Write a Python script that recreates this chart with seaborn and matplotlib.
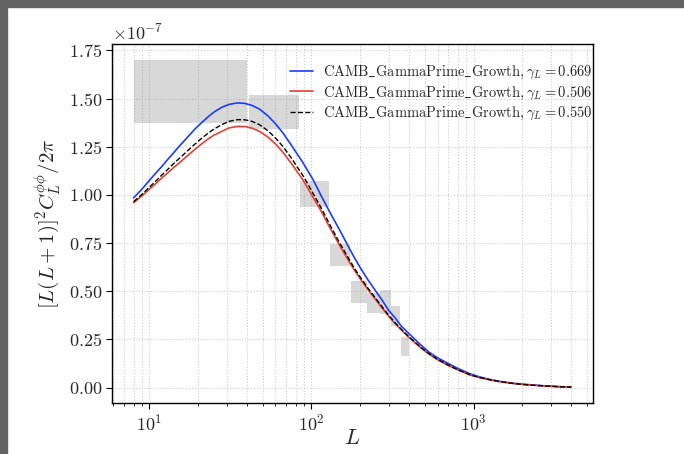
import numpy as np
import pandas as pd
import matplotlib
matplotlib.use("Agg")
import matplotlib.pyplot as plt
from matplotlib.patches import Rectangle
import seaborn as sns

# ---- data (values in units of 1e-7) ----
L = [8, 9, 10, 11, 12, 13, 14, 15, 17, 19, 21, 23, 25, 28, 31, 35,
     39, 43, 48, 54, 60, 67, 75, 88, 95, 102, 115, 130, 150, 172, 184, 202,
     225, 250, 275, 300, 330, 358, 400, 475, 530, 600, 700, 800, 950, 1100, 1300, 1500,
     1750, 2000, 2400, 2800, 3400, 4000]
blue_vals = [0.985, 1.03, 1.075, 1.115, 1.15, 1.185, 1.215, 1.245,
             1.295, 1.34, 1.375, 1.405, 1.43, 1.455, 1.47, 1.478,
             1.475, 1.465, 1.445, 1.41, 1.37, 1.32, 1.26, 1.172,
             1.125, 1.082, 0.995, 0.91, 0.815, 0.72, 0.675, 0.617,
             0.555, 0.50, 0.45, 0.40, 0.36, 0.32, 0.28, 0.22,
             0.185, 0.155, 0.125, 0.10, 0.072, 0.055, 0.040, 0.031,
             0.023, 0.018, 0.013, 0.009, 0.005, 0.003]
red_vals = [0.96, 0.995, 1.03, 1.06, 1.09, 1.115, 1.14, 1.16,
            1.2, 1.235, 1.265, 1.29, 1.31, 1.33, 1.348, 1.356,
            1.355, 1.347, 1.33, 1.30, 1.265, 1.22, 1.165, 1.082,
            1.035, 0.99, 0.915, 0.83, 0.735, 0.65, 0.61, 0.56,
            0.505, 0.455, 0.41, 0.37, 0.33, 0.30, 0.26, 0.205,
            0.175, 0.145, 0.115, 0.092, 0.066, 0.051, 0.038, 0.029,
            0.022, 0.017, 0.012, 0.0085, 0.005, 0.003]
black_vals = [0.965, 1.003, 1.04, 1.073, 1.105, 1.133, 1.16, 1.183,
              1.225, 1.262, 1.294, 1.32, 1.342, 1.365, 1.382, 1.391,
              1.39, 1.382, 1.364, 1.333, 1.296, 1.25, 1.193, 1.105,
              1.057, 1.01, 0.932, 0.845, 0.748, 0.662, 0.62, 0.568,
              0.512, 0.462, 0.416, 0.375, 0.335, 0.304, 0.264, 0.208,
              0.177, 0.147, 0.117, 0.093, 0.067, 0.052, 0.039, 0.030,
              0.022, 0.017, 0.012, 0.0085, 0.005, 0.003]

labels = [r"$\mathrm{CAMB\_GammaPrime\_Growth},\gamma_L = 0.669$",
          r"$\mathrm{CAMB\_GammaPrime\_Growth},\gamma_L = 0.506$",
          r"$\mathrm{CAMB\_GammaPrime\_Growth},\gamma_L = 0.550$"]

# bandpower boxes: L edges and value ranges
box_Lmin = [8, 41, 85, 130, 175, 220, 265, 310, 355]
box_Lmax = [40, 84, 129, 174, 219, 264, 309, 354, 400]
box_lo = [1.375, 1.341, 0.94, 0.63, 0.441, 0.3875, 0.38, 0.318, 0.165]
box_hi = [1.703, 1.519, 1.075, 0.748, 0.554, 0.492, 0.509, 0.422, 0.2625]

scale = 1e-7

sns.set_theme(style="white")
plt.rcParams.update({
    "font.family": "serif",
    "font.serif": ["cmr10"],
    "mathtext.fontset": "cm",
    "axes.formatter.use_mathtext": True,
    "axes.unicode_minus": True,
})

fig = plt.figure(figsize=(6.84, 4.54), dpi=100)
ax = fig.add_axes([0.1633, 0.113, 0.867 - 0.1633, 0.902 - 0.113])

# boxes
ax.bar(x=box_Lmin, height=(np.array(box_hi) - np.array(box_lo)) * scale,
       width=np.array(box_Lmax) - np.array(box_Lmin), bottom=np.array(box_lo) * scale,
       align="edge", color="gray", alpha=0.3, linewidth=0, zorder=1)

df = pd.DataFrame({"L": L,
                   "blue": np.array(blue_vals) * scale,
                   "red": np.array(red_vals) * scale,
                   "black": np.array(black_vals) * scale})

sns.lineplot(data=df, x="L", y="blue", ax=ax, color="#1a3cff", lw=1.2, label=labels[0], zorder=3)
sns.lineplot(data=df, x="L", y="red", ax=ax, color="#e8402e", lw=1.2, label=labels[1], zorder=3)
sns.lineplot(data=df, x="L", y="black", ax=ax, color="black", lw=1.0, ls="--", label=labels[2], zorder=4)

ax.set_xscale("log")
ax.set_xlim(10 ** 0.768, 10 ** 3.737)
ax.set_ylim(-0.078e-7, 1.781e-7)
ax.set_yticks(np.arange(0, 1.76, 0.25) * scale)

ax.grid(True, which="both", axis="x", ls=":", color="#cccccc", lw=0.8)
ax.grid(True, which="major", axis="y", ls=":", color="#cccccc", lw=0.8)

for s in ax.spines.values():
    s.set_color("black")
    s.set_linewidth(1.0)
ax.tick_params(axis="both", which="major", direction="out", length=4, width=0.8,
               labelsize=13, color="black", bottom=True, left=True, pad=3)
ax.tick_params(axis="x", which="minor", direction="out", length=2.5, width=0.6,
               bottom=True, color="black")
ax.yaxis.get_offset_text().set_fontsize(13)

ax.set_xlabel(r"$L$", fontsize=16, labelpad=-3)
ax.set_ylabel(r"$[L(L+1)]^2C_L^{\phi\phi}/2\pi$", fontsize=15)

leg = ax.legend(loc="upper left", bbox_to_anchor=(0.3585, 0.963), fontsize=10.45,
                frameon=False, handlelength=1.6, handletextpad=0.7,
                labelspacing=0.23, borderaxespad=0.0)

# screenshot frame (gray band top and left)
fig.patches.append(Rectangle((0, 1 - 7 / 454), 1, 7 / 454, transform=fig.transFigure,
                             color="#636363", zorder=10))
fig.patches.append(Rectangle((0, 0), 7 / 684, 1, transform=fig.transFigure,
                             color="#636363", zorder=10))

fig.savefig("out.png", dpi=100)
